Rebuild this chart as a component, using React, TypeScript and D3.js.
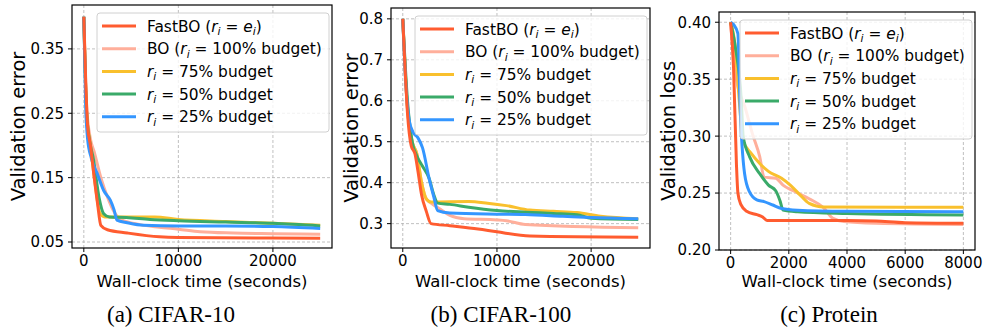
import { useRef, useEffect } from 'react';
import * as d3 from 'd3';

type Pt = [number, number];

// CIFAR-10 curves (seconds, validation error)
const c10Fast: Pt[] = [[0, 0.40], [200, 0.30], [400, 0.23], [700, 0.20], [1100, 0.15], [1450, 0.11], [1800, 0.076], [2500, 0.069], [4600, 0.064], [8000, 0.058], [10000, 0.057], [25000, 0.056]];
const c10BO: Pt[] = [[0, 0.40], [300, 0.26], [700, 0.21], [1100, 0.19], [1800, 0.15], [2500, 0.12], [3200, 0.097], [3900, 0.085], [5300, 0.079], [8000, 0.073], [10000, 0.070], [12300, 0.066], [15800, 0.064], [20000, 0.063], [25000, 0.062]];
const c10R75: Pt[] = [[0, 0.40], [300, 0.25], [700, 0.20], [1200, 0.14], [1700, 0.095], [2200, 0.089], [4000, 0.089], [7500, 0.089], [10000, 0.085], [15000, 0.082], [20000, 0.079], [25000, 0.076]];
const c10R50: Pt[] = [[0, 0.40], [300, 0.25], [700, 0.20], [1000, 0.18], [1600, 0.12], [2100, 0.094], [2700, 0.089], [4500, 0.088], [7000, 0.085], [10000, 0.083], [15000, 0.081], [20000, 0.079], [25000, 0.075]];
const c10R25: Pt[] = [[0, 0.40], [200, 0.26], [400, 0.21], [800, 0.18], [1400, 0.157], [2100, 0.13], [2800, 0.115], [3200, 0.10], [3500, 0.084], [4600, 0.080], [6300, 0.076], [10000, 0.075], [15000, 0.075], [20000, 0.074], [25000, 0.071]];

// CIFAR-100 curves
const c100Fast: Pt[] = [[0, 0.80], [200, 0.70], [500, 0.57], [900, 0.49], [1300, 0.47], [1600, 0.43], [2000, 0.37], [2500, 0.33], [3000, 0.30], [5000, 0.295], [8000, 0.287], [10000, 0.28], [13500, 0.27], [25000, 0.267]];
const c100BO: Pt[] = [[0, 0.80], [500, 0.58], [1000, 0.50], [1500, 0.47], [2000, 0.40], [2500, 0.36], [3000, 0.35], [4000, 0.335], [5000, 0.32], [6500, 0.312], [10000, 0.309], [11000, 0.307], [13000, 0.298], [25000, 0.29]];
const c100R75: Pt[] = [[0, 0.80], [500, 0.58], [1000, 0.50], [1500, 0.47], [2000, 0.40], [2500, 0.36], [3000, 0.353], [7000, 0.354], [9000, 0.35], [11000, 0.344], [13500, 0.333], [16000, 0.33], [18500, 0.327], [21000, 0.318], [25000, 0.312]];
const c100R50: Pt[] = [[0, 0.80], [500, 0.60], [1000, 0.50], [1500, 0.465], [2100, 0.44], [2800, 0.41], [3300, 0.37], [3700, 0.35], [5000, 0.347], [7000, 0.34], [10000, 0.332], [13000, 0.328], [16000, 0.325], [18500, 0.322], [20000, 0.313], [25000, 0.31]];
const c100R25: Pt[] = [[0, 0.80], [300, 0.65], [700, 0.55], [1100, 0.523], [1600, 0.51], [2100, 0.485], [2800, 0.41], [3300, 0.365], [3700, 0.332], [5000, 0.326], [10000, 0.323], [13000, 0.322], [17000, 0.318], [20000, 0.315], [25000, 0.312]];

// Protein curves (validation loss)
const protFast: Pt[] = [[0, 0.40], [100, 0.36], [200, 0.275], [250, 0.25], [350, 0.24], [550, 0.234], [900, 0.231], [1100, 0.229], [1250, 0.226], [4000, 0.226], [5000, 0.2255], [6000, 0.224], [8000, 0.2235]];
const protBO: Pt[] = [[0, 0.40], [100, 0.37], [200, 0.35], [500, 0.325], [750, 0.302], [1000, 0.282], [1150, 0.264], [1550, 0.263], [1800, 0.257], [2150, 0.252], [2700, 0.245], [3200, 0.237], [3500, 0.228], [3900, 0.225], [5000, 0.2235], [8000, 0.2225]];
const protR75: Pt[] = [[0, 0.40], [150, 0.38], [300, 0.33], [425, 0.296], [700, 0.285], [1000, 0.276], [1300, 0.269], [1750, 0.263], [2050, 0.257], [2400, 0.248], [2700, 0.241], [3200, 0.2378], [8000, 0.2375]];
const protR50: Pt[] = [[0, 0.40], [150, 0.38], [370, 0.33], [430, 0.30], [650, 0.282], [1000, 0.267], [1300, 0.257], [1550, 0.252], [1700, 0.243], [1800, 0.235], [2300, 0.2335], [4000, 0.232], [8000, 0.2307]];
const protR25: Pt[] = [[0, 0.40], [100, 0.398], [250, 0.39], [320, 0.33], [480, 0.267], [650, 0.251], [900, 0.244], [1150, 0.2425], [1450, 0.2395], [1750, 0.2365], [2300, 0.235], [4000, 0.234], [8000, 0.2335]];

const seriesKeys = ['fast', 'bo', 'r75', 'r50', 'r25'];
const seriesColors = ['#ff5c30', '#ffaf9b', '#f9c02d', '#3aaa69', '#3496ff'];
const budgetLabels = ['75%', '50%', '25%'];

const c10YTicks = [0.05, 0.15, 0.25, 0.35];
const c100YTicks = [0.3, 0.4, 0.5, 0.6, 0.7, 0.8];
const protYTicks = [0.2, 0.25, 0.3, 0.35, 0.4];
const longXTicks = [0, 10000, 20000];
const protXTicks = [0, 2000, 4000, 6000, 8000];

const panels = [
  {
    series: [c10Fast, c10BO, c10R75, c10R50, c10R25],
    box: { left: 72, right: 332, top: 5, bottom: 248 },
    xDomain: [-1250, 26250], yDomain: [0.0407, 0.4182],
    xTicks: longXTicks, yTicks: c10YTicks, yFmt: '.2f',
    yLabel: 'Validation error', yLabelX: 25,
    caption: '(a) CIFAR-10', captionX: 171,
  },
  {
    series: [c100Fast, c100BO, c100R75, c100R50, c100R25],
    box: { left: 391, right: 650, top: 8, bottom: 248 },
    xDomain: [-1250, 26250], yDomain: [0.2405, 0.8265],
    xTicks: longXTicks, yTicks: c100YTicks, yFmt: '.1f',
    yLabel: 'Validation error', yLabelX: 358,
    caption: '(b) CIFAR-100', captionX: 501,
  },
  {
    series: [protFast, protBO, protR75, protR50, protR25],
    box: { left: 719, right: 975, top: 12, bottom: 250 },
    xDomain: [-400, 8400], yDomain: [0.2, 0.409],
    xTicks: protXTicks, yTicks: protYTicks, yFmt: '.2f',
    yLabel: 'Validation loss', yLabelX: 675,
    caption: '(c) Protein', captionX: 829,
  },
];

const SANS = 'DejaVu Sans, sans-serif';

export default function App() {
  const svgRef = useRef<SVGSVGElement>(null);

  useEffect(() => {
    if (!svgRef.current) return;
    const svg = d3.select(svgRef.current);
    svg.selectAll('*').remove();

    panels.forEach((p, pi) => {
      const { left, right, top, bottom } = p.box;
      const x = d3.scaleLinear().domain(p.xDomain).range([left, right]);
      const y = d3.scaleLinear().domain(p.yDomain).range([bottom, top]);
      const g = svg.append('g');

      // grid
      g.selectAll('.gx').data(p.xTicks).enter().append('line')
        .attr('x1', (d) => x(d)).attr('x2', (d) => x(d))
        .attr('y1', top).attr('y2', bottom)
        .attr('stroke', '#b0b0b0').attr('stroke-width', 0.8).attr('stroke-dasharray', '3,2');
      g.selectAll('.gy').data(p.yTicks).enter().append('line')
        .attr('x1', left).attr('x2', right)
        .attr('y1', (d) => y(d)).attr('y2', (d) => y(d))
        .attr('stroke', '#b0b0b0').attr('stroke-width', 0.8).attr('stroke-dasharray', '3,2');

      // clip
      const clipId = `clip-${pi}`;
      svg.append('clipPath').attr('id', clipId).append('rect')
        .attr('x', left).attr('y', top).attr('width', right - left).attr('height', bottom - top);

      const line = d3.line<Pt>().x((d) => x(d[0])).y((d) => y(d[1])).curve(d3.curveMonotoneX);
      // FastBO drawn last (on top)
      [1, 2, 3, 4, 0].forEach((si) => {
        g.append('path')
          .attr('clip-path', `url(#${clipId})`)
          .attr('d', line(p.series[si]) || '')
          .attr('fill', 'none')
          .attr('stroke', seriesColors[si])
          .attr('stroke-width', 3)
          .attr('stroke-linejoin', 'round')
          .attr('class', seriesKeys[si]);
      });

      // frame
      g.append('rect')
        .attr('x', left).attr('y', top).attr('width', right - left).attr('height', bottom - top)
        .attr('fill', 'none').attr('stroke', '#000').attr('stroke-width', 1.2);

      // x ticks
      p.xTicks.forEach((t) => {
        g.append('line').attr('x1', x(t)).attr('x2', x(t)).attr('y1', bottom).attr('y2', bottom + 4)
          .attr('stroke', '#000').attr('stroke-width', 1);
        g.append('text').attr('x', x(t)).attr('y', bottom + 18)
          .attr('text-anchor', 'middle').attr('font-family', SANS).attr('font-size', 15)
          .attr('fill', '#000').text(String(t));
      });
      // y ticks
      const fmt = d3.format(p.yFmt);
      p.yTicks.forEach((t) => {
        g.append('line').attr('x1', left - 4).attr('x2', left).attr('y1', y(t)).attr('y2', y(t))
          .attr('stroke', '#000').attr('stroke-width', 1);
        g.append('text').attr('x', left - 8).attr('y', y(t)).attr('dy', '0.36em')
          .attr('text-anchor', 'end').attr('font-family', SANS).attr('font-size', 15)
          .attr('fill', '#000').text(fmt(t));
      });

      // axis labels
      g.append('text').attr('x', (left + right) / 2).attr('y', 287)
        .attr('text-anchor', 'middle').attr('font-family', SANS).attr('font-size', 16.5)
        .attr('fill', '#000').text('Wall-clock time (seconds)');
      const cy = (top + bottom) / 2;
      g.append('text').attr('x', p.yLabelX).attr('y', cy)
        .attr('transform', `rotate(-90, ${p.yLabelX}, ${cy})`)
        .attr('text-anchor', 'middle').attr('font-family', SANS).attr('font-size', 19.5)
        .attr('fill', '#000').text(p.yLabel);

      // legend
      const lw = 232;
      const lx = right - lw - 3;
      const ly = top + 8;
      g.append('rect').attr('x', lx).attr('y', ly).attr('width', lw).attr('height', 119)
        .attr('rx', 3).attr('fill', '#fff').attr('fill-opacity', 0.8)
        .attr('stroke', '#d0d0d0').attr('stroke-width', 1);
      seriesColors.forEach((c, i) => {
        const ry = ly + 13 + i * 22.7;
        g.append('line').attr('x1', lx + 5).attr('x2', lx + 39).attr('y1', ry).attr('y2', ry)
          .attr('stroke', c).attr('stroke-width', 3);
        const t = g.append('text').attr('x', lx + 50).attr('y', ry).attr('dy', '0.36em')
          .attr('font-family', SANS).attr('font-size', 15.4).attr('fill', '#000');
        const ri = (tt: typeof t) => {
          tt.append('tspan').attr('font-style', 'italic').text('r');
          tt.append('tspan').attr('font-style', 'italic').attr('font-size', 10.8).attr('dy', 3.5).text('i');
          tt.append('tspan').attr('dy', -3.5).text(' = ');
        };
        if (i === 0) {
          t.append('tspan').text('FastBO (');
          ri(t);
          t.append('tspan').attr('font-style', 'italic').text('e');
          t.append('tspan').attr('font-style', 'italic').attr('font-size', 10.8).attr('dy', 3.5).text('i');
          t.append('tspan').attr('dy', -3.5).text(')');
        } else if (i === 1) {
          t.append('tspan').text('BO (');
          ri(t);
          t.append('tspan').text('100% budget)');
        } else {
          ri(t);
          t.append('tspan').text(`${budgetLabels[i - 2]} budget`);
        }
      });

      // caption
      svg.append('text').attr('x', p.captionX).attr('y', 322)
        .attr('text-anchor', 'middle').attr('font-family', 'Liberation Serif, Times New Roman, serif')
        .attr('font-size', 23).attr('fill', '#000').text(p.caption);
    });
  }, []);

  return (
    <svg ref={svgRef} width={984} height={328}
      style={{ position: 'absolute', left: 0, top: 0, background: '#fff' }} />
  );
}
